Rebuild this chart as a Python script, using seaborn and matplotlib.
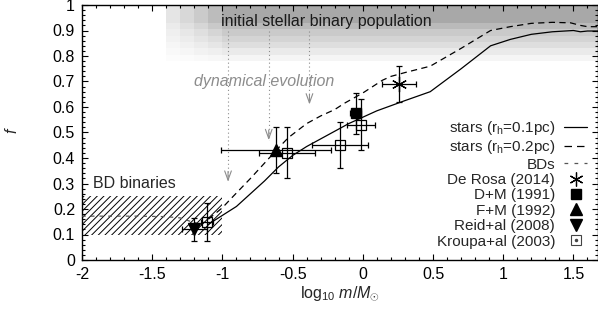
import numpy as np
import matplotlib
matplotlib.use("Agg")
import matplotlib.pyplot as plt
import seaborn as sns
from matplotlib.lines import Line2D
from matplotlib.ticker import MultipleLocator, FuncFormatter

# Model curves (binary fraction vs log10 mass)
stars01_x = [-1.1, -1.0, -0.9, -0.8, -0.7, -0.6, -0.5, -0.4, -0.3, -0.2, -0.1, 0.0,
             0.1, 0.2, 0.3, 0.48, 0.7, 0.91, 1.05, 1.2, 1.35, 1.5, 1.55, 1.6, 1.7]
stars01_y = [0.14, 0.175, 0.21, 0.26, 0.31, 0.365, 0.41, 0.445, 0.475, 0.505, 0.535, 0.56,
             0.585, 0.605, 0.625, 0.66, 0.75, 0.84, 0.865, 0.885, 0.895, 0.90, 0.895, 0.898, 0.898]

stars02_x = [-1.1, -1.0, -0.94, -0.8, -0.7, -0.6, -0.53, -0.4, -0.3, -0.2, -0.13, 0.0,
             0.14, 0.2, 0.3, 0.48, 0.7, 0.91, 1.05, 1.2, 1.35, 1.48, 1.55, 1.6, 1.7]
stars02_y = [0.16, 0.205, 0.24, 0.32, 0.38, 0.44, 0.48, 0.535, 0.565, 0.59, 0.615, 0.655,
             0.705, 0.72, 0.735, 0.76, 0.83, 0.90, 0.915, 0.928, 0.932, 0.93, 0.92, 0.915, 0.915]

bd_x = [-2.0, -1.8, -1.6, -1.4, -1.3, -1.22, -1.15]
bd_y = [0.172, 0.172, 0.172, 0.17, 0.165, 0.15, 0.14]

# Observations: x, y, xerr, yerr
derosa = dict(x=[0.26], y=[0.69], xerr=[0.12], yerr=[0.07])
dm = dict(x=[-0.05], y=[0.575], xerr=[0.04], yerr=[0.08])
fm = dict(x=[-0.62], y=[0.43], xerr=[0.39], yerr=[0.09])
reid = dict(x=[-1.2], y=[0.12], xerr=[0.09], yerr=[0.045])
kroupa = dict(x=[-1.11, -0.54, -0.16, -0.01], y=[0.15, 0.42, 0.45, 0.53],
              xerr=[0.04, 0.2, 0.2, 0.1], yerr=[0.075, 0.1, 0.09, 0.1])

# dynamical evolution arrows: x, start, tip
arrow_x = [-0.96, -0.67, -0.38]
arrow_start = [0.9, 0.9, 0.9]
arrow_tip = [0.307, 0.47, 0.61]

# shaded initial population block
band_xedges = [-1.4, -1.3, -1.2, -1.1, -1.0, 1.8]
band_yedges = [0.78, 0.805, 0.83, 0.855, 0.88, 0.905, 0.93, 1.0]
band_fx = [0.3, 0.45, 0.6, 0.78, 1.0]
band_fy = [0.12, 0.25, 0.38, 0.5, 0.62, 0.8, 1.0]

# BD binaries hatched region
bd_box_x = [-2.0, -1.0]
bd_box_low = 0.1
bd_box_high = 0.25

sns.set_theme(style="ticks")
plt.rcParams["font.family"] = ["Liberation Sans", "DejaVu Sans"]
plt.rcParams["mathtext.fontset"] = "custom"
plt.rcParams["mathtext.rm"] = "Liberation Sans"
plt.rcParams["mathtext.it"] = "Liberation Sans:italic"
plt.rcParams["hatch.linewidth"] = 0.7

FS = 11.5

fig = plt.figure(figsize=(5.98, 3.13), dpi=100)
ax = fig.add_axes([82 / 598, 53 / 313, 516 / 598, 255 / 313])

# gray gradient block
C = 1 - 0.34 * np.outer(band_fy, band_fx)
ax.pcolormesh(band_xedges, band_yedges, C, cmap="gray", vmin=0, vmax=1,
              shading="flat", zorder=0)
ax.text(-1.01, 0.937, "initial stellar binary population", fontsize=FS,
        va="center", ha="left", color="#1a1a1a", zorder=1)

# hatched BD region
ax.fill_between(bd_box_x, bd_box_low, bd_box_high, facecolor="none",
                edgecolor="black", hatch="/////", lw=0, zorder=1)
ax.text(-1.92, 0.30, "BD binaries", fontsize=FS, va="center", ha="left")

# arrows
gray = "#8c8c8c"
for xa, ys, yt in zip(arrow_x, arrow_start, arrow_tip):
    ax.plot([xa, xa], [ys, yt], color=gray, lw=0.8, ls=(0, (1, 2.5)), zorder=1)
    ax.annotate("", xy=(xa, yt), xytext=(xa, yt + 0.04),
                arrowprops=dict(arrowstyle="->,head_length=0.55,head_width=0.2",
                                color=gray, lw=0.8, shrinkA=0, shrinkB=0))
ax.text(-0.705, 0.70, "dynamical evolution", fontsize=FS, style="italic",
        color=gray, ha="center", va="center")

# model lines
sns.lineplot(x=stars01_x, y=stars01_y, ax=ax, color="black", lw=0.9, sort=False, zorder=3)
sns.lineplot(x=stars02_x, y=stars02_y, ax=ax, color="black", lw=0.9, sort=False, zorder=3)
ax.lines[-1].set_dashes((5, 3.5))
sns.lineplot(x=bd_x, y=bd_y, ax=ax, color="#555555", lw=0.9, sort=False, zorder=3)
ax.lines[-1].set_dashes((3, 4))

# observations
eb_kw = dict(ls="none", ecolor="black", elinewidth=0.9, capsize=2.5, capthick=0.9, zorder=4)
ax.errorbar(derosa["x"], derosa["y"], xerr=derosa["xerr"], yerr=derosa["yerr"],
            marker=(6, 2, 0), ms=11, mew=0.9, color="black", **eb_kw)
ax.errorbar(dm["x"], dm["y"], xerr=dm["xerr"], yerr=dm["yerr"],
            marker="s", ms=7.5, color="black", **eb_kw)
ax.errorbar(fm["x"], fm["y"], xerr=fm["xerr"], yerr=fm["yerr"],
            marker="^", ms=9, color="black", **eb_kw)
ax.errorbar(reid["x"], reid["y"], xerr=reid["xerr"], yerr=reid["yerr"],
            marker="v", ms=9, color="black", **eb_kw)
ax.errorbar(kroupa["x"], kroupa["y"], xerr=kroupa["xerr"], yerr=kroupa["yerr"],
            marker="s", ms=7.5, mfc="none", mec="black", mew=0.9, color="black", **eb_kw)

# axes styling
ax.set_xlim(-2, 1.675)
ax.set_ylim(0, 1)
ax.xaxis.set_major_locator(MultipleLocator(0.5))
ax.xaxis.set_minor_locator(MultipleLocator(0.1))
ax.yaxis.set_major_locator(MultipleLocator(0.1))
ax.yaxis.set_minor_locator(MultipleLocator(0.02))
fmt = FuncFormatter(lambda v, p: f"{v:g}")
ax.xaxis.set_major_formatter(fmt)
ax.yaxis.set_major_formatter(fmt)
ax.tick_params(which="both", direction="in", top=True, right=True, colors="black",
               labelsize=FS, width=0.8)
ax.tick_params(which="major", length=4, pad=5)
ax.tick_params(which="minor", length=2)
for s in ax.spines.values():
    s.set_visible(True)
    s.set_linewidth(1.0)
    s.set_color("black")
ax.grid(False)
ax.set_facecolor("white")

ax.set_xlabel(r"log$_{10}$ $m/M_{\odot}$", fontsize=FS)
ax.xaxis.set_label_coords(0.5, -0.095)
ax.set_ylabel(r"$f$", fontsize=FS)
ax.yaxis.set_label_coords(-0.12, 0.51)

# legend
handles = [
    Line2D([], [], color="black", lw=0.9),
    Line2D([], [], color="black", lw=0.9, dashes=(6, 4)),
    Line2D([], [], color="#555555", lw=0.9, dashes=(3, 5)),
    Line2D([], [], ls="none", marker=(6, 2, 0), ms=10, mew=0.9, color="black"),
    Line2D([], [], ls="none", marker="s", ms=7, color="black"),
    Line2D([], [], ls="none", marker="^", ms=8, color="black"),
    Line2D([], [], ls="none", marker="v", ms=8, color="black"),
    (Line2D([], [], ls="none", marker="s", ms=7, mfc="none", mec="#444444", mew=0.8),
     Line2D([], [], ls="none", marker="o", ms=1.5, color="#444444")),
]
labels = [r"stars (r$_\mathrm{h}$=0.1pc)", r"stars (r$_\mathrm{h}$=0.2pc)", "BDs",
          "De Rosa (2014)", "D+M (1991)", "F+M (1992)", "Reid+al (2008)", "Kroupa+al (2003)"]
ax.legend(handles, labels, loc="lower right", bbox_to_anchor=(0.979, 0.045),
          frameon=False, markerfirst=False, fontsize=11, handlelength=1.5,
          handletextpad=0.6, labelspacing=0.09, borderpad=0, borderaxespad=0)

fig.savefig("out.png", dpi=100)
